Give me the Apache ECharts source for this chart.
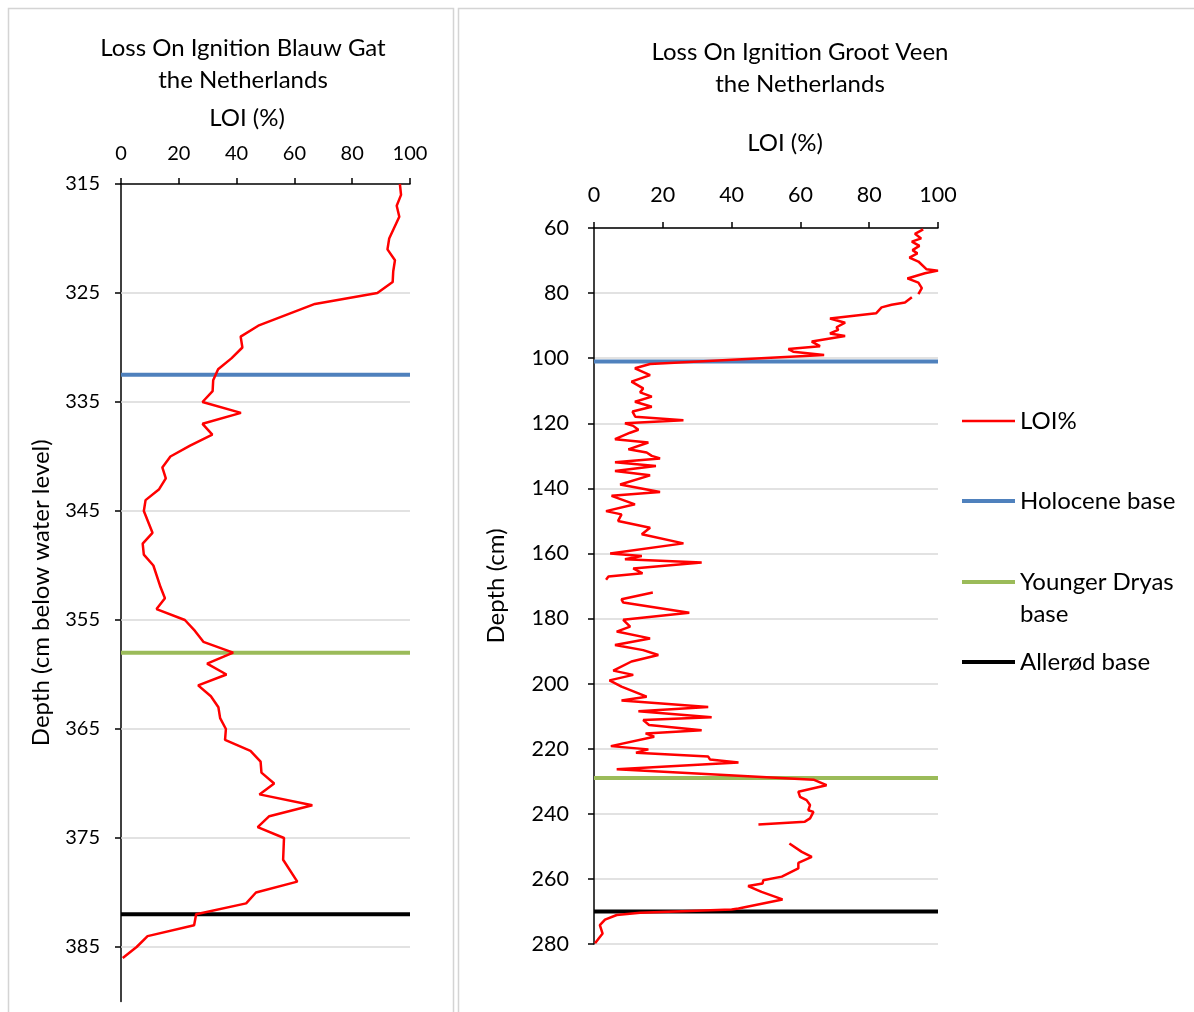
<!DOCTYPE html>
<html>
<head>
<meta charset="utf-8">
<title>Loss On Ignition</title>
<script src="https://cdn.jsdelivr.net/npm/echarts@6/dist/echarts.min.js"></script>
<style>
  html, body { margin: 0; padding: 0; background: #fff; }
  #chart { width: 1194px; height: 1012px; }
</style>
</head>
<body>
<div id="chart"></div>
<script>
// Blauw Gat core: depth (cm below water level) and loss on ignition (%)
const blauwGatDepth = [315, 316, 317, 318, 320, 321, 322, 323, 324, 325, 326, 328, 329, 330, 331, 332, 333, 334, 335, 336,
  337, 338, 339, 340, 341, 342, 343, 344, 345, 347, 348, 349, 350, 352, 353, 354, 355, 356, 357, 358,
  359, 360, 361, 362, 363, 364, 365, 366, 367, 368, 369, 370, 371, 372, 373, 374, 375, 377, 379, 380,
  381, 382, 383, 384, 385, 386];
const blauwGatLoi = [96.5, 96.9, 95.4, 96.3, 92.8, 92.2, 94.8, 94.2, 94.0, 88.7, 67.1, 47.5, 41.4, 42.0, 38.2, 33.6, 31.9, 31.7, 28.2, 41.5,
  28.2, 31.6, 23.9, 17.1, 14.3, 15.5, 13.2, 8.5, 7.9, 10.9, 7.5, 7.9, 11.2, 13.7, 15.2, 12.3, 22.1, 25.6, 28.5, 38.8,
  29.8, 36.5, 26.7, 31.1, 33.7, 34.3, 36.3, 36.0, 44.8, 48.3, 48.6, 53.0, 47.9, 66.2, 51.3, 47.3, 56.4, 56.1, 61.0, 46.7,
  43.3, 26.0, 25.3, 9.2, 5.4, 0.6];
// Boundary depths in the Blauw Gat core (cm)
const blauwGatHolocene = 332.5;
const blauwGatYoungerDryas = 358;
const blauwGatAllerod = 382;
const blauwGatDepthTicks = [315, 325, 335, 345, 355, 365, 375, 385];

// Groot Veen core: depth (cm) and loss on ignition (%); null marks a gap in the record
const grootVeenDepth = [60.4, 61.8, 63.2, 64.2, 65.5, 66.8, 67.8, 69.1, 70.3, 72.7, 73.1, 73.9, 75.5, 76.8, 78.5, 80.3, null,
  81.3, 82.9, 83.6, 84.4, 86.2, 87.8, 89.1, 90.5, 91.3, 92.4, 93.2, 94.9, 96.3, 97.2, 98, 99,
  101.8, 103.1, 105.2, 107.2, 109.3, 110.5, 111.8, 113.4, 114.9, 116.4, 118, 119.1, 120, 120.8, 122, 122.9,
  124.9, 125.9, 128, 129, 130, 130.8, 132, 133.1, 134.7, 136, 138.8, 141.1, 142.3, 144.9, 147, 148, 150,
  152.1, 154.1, 156.9, 160, 160.8, 161.8, 162.8, 164.6, 166.1, 167.1, 168.1, null,
  172, 174.1, 175.1, 178.2, 180.4, 182.5, 184, 186.1, 188.1, 189.7, 191.2, 193.2, 196, 197.3, 199, 200.9,
  204, 205.2, 207.2, 208.5, 210.3, 211.2, 212.7, 214.3, 215.3, 216.3, 219.2, 220.2, 221.2, 222.4, 223.3,
  224.2, 226.3, 229.5, 231.2, 233.2, 234.8, 235.8, 237.3, 238.9, 239.4, 241.4, 242.4, 243.3, null,
  249.1, 251.7, 253.2, 255.1, 256.8, 259.3, 260.4, 261.4, 262.2, 264, 266.3, 269.1, 269.4, 270.4, 271.1,
  272.5, 274.2, 276.8, 279.8];
const grootVeenLoi = [95.7, 93.3, 95.1, 92.4, 94.6, 92.6, 94.0, 91.7, 94.3, 96.7, 100, 96.2, 91.1, 94.3, 95.3, 94.3, null,
  92.4, 90.4, 86.5, 83.6, 82.0, 68.6, 73.0, 70.5, 71.0, 68.6, 73.0, 63.3, 65.7, 56.5, 57.9, 66.9,
  16.3, 11.9, 16.3, 10.9, 14.3, 13.4, 16.8, 11.9, 16.8, 11.2, 12.0, 26.0, 9.0, 11.4, 12.9, 10.5,
  6.1, 15.8, 10.0, 15.3, 16.8, 19.2, 6.1, 18.0, 6.1, 16.3, 7.6, 19.2, 5.1, 11.9, 3.5, 8.0, 7.0,
  16.3, 13.9, 26.0, 4.7, 13.9, 9.0, 31.3, 11.4, 14.1, 4.2, 3.5, null,
  17.1, 8.0, 8.5, 27.7, 8.5, 10.5, 6.6, 16.3, 6.1, 14.3, 18.7, 10.9, 5.6, 11.4, 4.5, 8.0,
  15.3, 8.0, 33.2, 12.9, 34.2, 14.3, 16.0, 31.3, 15.0, 17.5, 4.9, 15.8, 12.2, 33.2, 33.7,
  42.0, 6.6, 63.8, 67.6, 59.4, 59.9, 61.8, 62.8, 62.3, 63.8, 62.8, 61.3, 47.8, null,
  56.8, 60.4, 63.3, 59.4, 59.4, 54.6, 49.2, 49.0, 44.8, 48.7, 54.8, 42.0, 40.0, 13.4, 6.6,
  3.2, 1.7, 2.5, 0.3];
// Boundary depths in the Groot Veen core (cm)
const grootVeenHolocene = 101;
const grootVeenYoungerDryas = 229;
const grootVeenAllerod = 270;

// LOI scale shared by both panels
const loiMin = 0, loiMax = 100, loiStep = 20;

const seriesNames = ['LOI%', 'Holocene base', 'Younger Dryas base', 'Allerød base'];
const legendLabels = ['LOI%', 'Holocene base', '\nYounger Dryas\nbase', 'Allerød base'];

const FONT = 'Lato, "Open Sans", sans-serif';
const TEXT = '#000';
const RED = '#FF0000', BLUE = '#4F81BD', GREEN = '#9BBB59', BLACK = '#000000';

function pairs(depths, values) {
  return depths.map((d, i) => (d === null || values[i] === null) ? [null, null] : [values[i], d]);
}
function boundary(depth) {
  return [[loiMin, depth], [loiMax, depth]];
}

const axisLine = { show: true, lineStyle: { color: '#000', width: 1.5 } };
const labelStyleLeft = { color: TEXT, fontFamily: FONT, fontSize: 20 };
const labelStyleRight = { color: TEXT, fontFamily: FONT, fontSize: 21.5 };
const TITLE_FONT = '24px ' + FONT;

const chart = echarts.init(document.getElementById('chart'), null, { renderer: 'canvas' });

// one legend block per entry, placed beside the Groot Veen panel
const legendBlocks = [
  { idx: 0, top: 405, h: 2.5 },
  { idx: 1, top: 485, h: 4 },
  { idx: 2, top: 534, h: 4 },
  { idx: 3, top: 646, h: 4 }
];

const option = {
  animation: false,
  backgroundColor: '#fff',
  textStyle: { fontFamily: FONT },
  grid: [
    { left: 121, top: 184, width: 289, height: 817.5 },
    { left: 594, top: 228, width: 344, height: 716 }
  ],
  xAxis: [
    {
      gridIndex: 0, type: 'value', position: 'top', min: loiMin, max: loiMax, interval: loiStep,
      axisLine: axisLine, axisTick: { show: true, inside: false, length: 6, lineStyle: { color: '#000', width: 1.5 } },
      axisLabel: Object.assign({ margin: 20 }, labelStyleLeft), splitLine: { show: false }
    },
    {
      gridIndex: 1, type: 'value', position: 'top', min: loiMin, max: loiMax, interval: loiStep,
      axisLine: axisLine, axisTick: { show: true, inside: false, length: 6, lineStyle: { color: '#000', width: 1.5 } },
      axisLabel: Object.assign({ margin: 22 }, labelStyleRight), splitLine: { show: false }
    }
  ],
  yAxis: [
    {
      gridIndex: 0, type: 'value', inverse: true, min: 315, max: 390,
      name: 'Depth (cm below water level)', nameLocation: 'middle', nameRotate: 90, nameGap: 68,
      nameTextStyle: { color: TEXT, fontFamily: FONT, fontSize: 24 },
      axisLine: axisLine,
      axisTick: { show: true, inside: false, length: 6, customValues: blauwGatDepthTicks, lineStyle: { color: '#000', width: 1.5 } },
      axisLabel: Object.assign({ margin: 21, customValues: blauwGatDepthTicks }, labelStyleLeft),
      splitLine: { show: false }
    },
    {
      gridIndex: 1, type: 'value', inverse: true, min: 60, max: 280, interval: 20,
      name: 'Depth (cm)', nameLocation: 'middle', nameRotate: 90, nameGap: 86,
      nameTextStyle: { color: TEXT, fontFamily: FONT, fontSize: 24 },
      axisLine: axisLine,
      axisTick: { show: true, inside: false, length: 6, lineStyle: { color: '#000', width: 1.5 } },
      axisLabel: Object.assign({ margin: 25 }, labelStyleRight),
      splitLine: { show: true, lineStyle: { color: '#D9D9D9', width: 1.5 } }
    }
  ],
  legend: legendBlocks.map((b) => ({
    left: 962, top: b.top, padding: 0, orient: 'vertical', icon: 'rect',
    itemWidth: 53, itemHeight: b.h, itemGap: 0,
    selectedMode: false, data: [seriesNames[b.idx]],
    formatter: () => legendLabels[b.idx],
    textStyle: { color: TEXT, fontFamily: FONT, fontSize: 24, lineHeight: 32 }
  })),
  graphic: [
    // panel frames
    { type: 'rect', shape: { x: 8.5, y: 8.5, width: 445, height: 1020 }, style: { fill: null, stroke: '#D4D4D4', lineWidth: 1.5 }, silent: true },
    { type: 'rect', shape: { x: 458.5, y: 8.5, width: 760, height: 1020 }, style: { fill: null, stroke: '#D4D4D4', lineWidth: 1.5 }, silent: true },
    // chart titles and LOI axis titles
    { type: 'text', x: 243, y: 48, style: { text: 'Loss On Ignition Blauw Gat', font: TITLE_FONT, fill: TEXT, align: 'center', verticalAlign: 'middle' } },
    { type: 'text', x: 243, y: 80, style: { text: 'the Netherlands', font: TITLE_FONT, fill: TEXT, align: 'center', verticalAlign: 'middle' } },
    { type: 'text', x: 247, y: 118, style: { text: 'LOI (%)', font: TITLE_FONT, fill: TEXT, align: 'center', verticalAlign: 'middle' } },
    { type: 'text', x: 800, y: 52, style: { text: 'Loss On Ignition Groot Veen', font: TITLE_FONT, fill: TEXT, align: 'center', verticalAlign: 'middle' } },
    { type: 'text', x: 800, y: 84, style: { text: 'the Netherlands', font: TITLE_FONT, fill: TEXT, align: 'center', verticalAlign: 'middle' } },
    { type: 'text', x: 785, y: 143, style: { text: 'LOI (%)', font: TITLE_FONT, fill: TEXT, align: 'center', verticalAlign: 'middle' } }
  ],
  series: [
    {
      name: 'Blauw Gat LOI', type: 'line', xAxisIndex: 0, yAxisIndex: 0, z: 10,
      data: pairs(blauwGatDepth, blauwGatLoi), symbol: 'none', connectNulls: false,
      lineStyle: { color: RED, width: 2.5 }, itemStyle: { color: RED },
      markLine: {
        silent: true, symbol: 'none', label: { show: false },
        lineStyle: { color: '#D9D9D9', width: 1.5, type: 'solid' },
        data: blauwGatDepthTicks.filter((t) => t !== 315).map((t) => ({ yAxis: t }))
      }
    },
    { name: 'Blauw Gat Holocene', type: 'line', xAxisIndex: 0, yAxisIndex: 0, z: 9, symbol: 'none', data: boundary(blauwGatHolocene), lineStyle: { color: BLUE, width: 4 }, itemStyle: { color: BLUE } },
    { name: 'Blauw Gat Younger Dryas', type: 'line', xAxisIndex: 0, yAxisIndex: 0, z: 9, symbol: 'none', data: boundary(blauwGatYoungerDryas), lineStyle: { color: GREEN, width: 4 }, itemStyle: { color: GREEN } },
    { name: 'Blauw Gat Allerød', type: 'line', xAxisIndex: 0, yAxisIndex: 0, z: 9, symbol: 'none', data: boundary(blauwGatAllerod), lineStyle: { color: BLACK, width: 4 }, itemStyle: { color: BLACK } },

    {
      name: seriesNames[0], type: 'line', xAxisIndex: 1, yAxisIndex: 1, z: 10,
      data: pairs(grootVeenDepth, grootVeenLoi), symbol: 'none', connectNulls: false,
      lineStyle: { color: RED, width: 2.5 }, itemStyle: { color: RED }
    },
    { name: seriesNames[1], type: 'line', xAxisIndex: 1, yAxisIndex: 1, z: 9, symbol: 'none', data: boundary(grootVeenHolocene), lineStyle: { color: BLUE, width: 4 }, itemStyle: { color: BLUE } },
    { name: seriesNames[2], type: 'line', xAxisIndex: 1, yAxisIndex: 1, z: 9, symbol: 'none', data: boundary(grootVeenYoungerDryas), lineStyle: { color: GREEN, width: 4 }, itemStyle: { color: GREEN } },
    { name: seriesNames[3], type: 'line', xAxisIndex: 1, yAxisIndex: 1, z: 9, symbol: 'none', data: boundary(grootVeenAllerod), lineStyle: { color: BLACK, width: 4 }, itemStyle: { color: BLACK } }
  ]
};

chart.setOption(option);
</script>
</body>
</html>
